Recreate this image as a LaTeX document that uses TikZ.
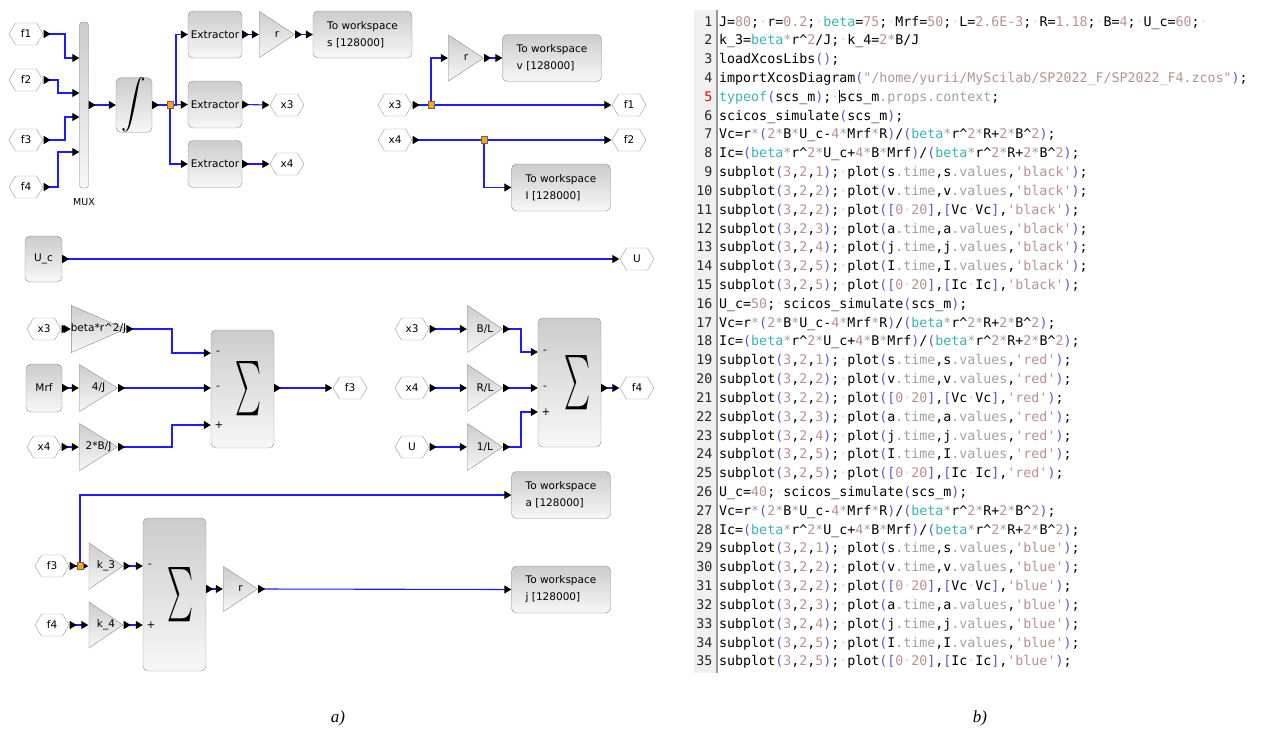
\documentclass[tikz,border=0pt]{standalone}
\usepackage{fontspec}
\setmainfont{Liberation Serif}
\setsansfont{DejaVu Sans}
\setmonofont{DejaVu Sans Mono}
\usepackage{xcolor}
\usetikzlibrary{arrows.meta,calc}
\definecolor{wireblue}{HTML}{1C1CFF}
\definecolor{splitorg}{HTML}{FFA500}
\definecolor{cpar}{HTML}{5858D8}
\definecolor{cnum}{HTML}{BC8F8F}
\definecolor{cfun}{HTML}{38B2B2}
\definecolor{cfld}{HTML}{A0A0A0}
\definecolor{cdot}{HTML}{D2D2D2}
\newcommand{\blkfont}{\sffamily\fontsize{10.5}{17}\selectfont}
\newcommand{\codefont}{\ttfamily\fontsize{13.3}{16}\selectfont}
\newcommand{\cP}[1]{\textcolor{cpar}{#1}}
\newcommand{\cN}[1]{\textcolor{cnum}{#1}}
\newcommand{\cF}[1]{\textcolor{cfun}{#1}}
\newcommand{\cG}[1]{\textcolor{cfld}{#1}}
\newcommand{\cS}{\textcolor{cfld}{*}}
\newcommand{\wsd}{\textcolor{cdot}{\char"00B7}}
\newcommand{\crsr}{\makebox[0pt]{\rule[-2pt]{0.9pt}{13pt}}}
\newcommand{\splt}[1]{subplot\cP{(}\cN{3},\cN{2},\cN{#1}\cP{)};\wsd}
\newcommand{\pltv}[2]{plot\cP{(}#1\cG{.time},#1\cG{.values},\cN{'#2'}\cP{)};}
\newcommand{\pltc}[2]{plot\cP{([}\cN{0}\wsd\cN{20}\cP{]},\cP{[}#1\wsd #1\cP{]},\cN{'#2'}\cP{)};}
\newcommand{\eqV}{Vc=r\cS\cP{(}\cN{2}\cS B\cS U\_c-\cN{4}\cS Mrf\cS R\cP{)}/\cP{(}\cF{beta}\cS r\textasciicircum\cN{2}\cS R+\cN{2}\cS B\textasciicircum\cN{2}\cP{)};}
\newcommand{\eqI}{Ic=\cP{(}\cF{beta}\cS r\textasciicircum\cN{2}\cS U\_c+\cN{4}\cS B\cS Mrf\cP{)}/\cP{(}\cF{beta}\cS r\textasciicircum\cN{2}\cS R+\cN{2}\cS B\textasciicircum\cN{2}\cP{)};}
\newcommand{\sumsym}[1]{\hspace*{#1}\resizebox{26pt}{42pt}{$\sum$}}
\tikzset{
  prt/.tip={Triangle[length=7pt,width=8pt,color=black]},
  prtout/.tip={Triangle[length=7pt,width=8pt,color=black,reversed]},
  blk/.style={draw=black!45, rounded corners=5pt, top color=black!20, bottom color=black!3, inner sep=0pt, font=\blkfont},
  extr/.style={blk, minimum width=54, minimum height=47},
  wsblk/.style={blk, minimum width=99, minimum height=47, align=left},
  sumblk/.style={blk, minimum width=63},
  tag/.style={minimum width=35, minimum height=23, inner sep=0pt, font=\blkfont,
    path picture={\draw[black!40]
      ($(path picture bounding box.west)+(0.5,0)$) -- ($(path picture bounding box.north west)+(7,0.5)$) --
      ($(path picture bounding box.north east)+(-7,0.5)$) -- ($(path picture bounding box.east)+(-0.5,0)$) --
      ($(path picture bounding box.south east)+(-7,-0.5)$) -- ($(path picture bounding box.south west)+(7,-0.5)$) -- cycle;}},
  gain/.style={minimum width=36, minimum height=47, inner sep=0pt, font=\blkfont,
    path picture={\shade[top color=black!20, bottom color=black!3, draw=black!45]
      ($(path picture bounding box.north west)+(0.5,0.5)$) -- ($(path picture bounding box.east)+(-0.5,0)$) --
      ($(path picture bounding box.south west)+(0.5,-0.5)$) -- cycle;}},
  splitpt/.style={draw=black!60, fill=splitorg, minimum width=6, minimum height=7, inner sep=0pt},
  sign/.style={font=\blkfont, inner sep=0pt},
  wire/.style={draw=wireblue, line width=1.1pt},
  io/.style={wire, {prtout}-{prt}},
  intoport/.style={wire, -{prt}},
  outof/.style={wire, {prtout}-},
  lnum/.style={anchor=base east, inner sep=0pt, font=\codefont, text=black!85},
  code/.style={anchor=base west, inner sep=0pt, font=\codefont},
  capt/.style={font=\itshape\fontsize{17}{17}\selectfont}
}
\begin{document}
\begin{tikzpicture}[x=1pt, y=-1pt]
\useasboundingbox (0,0) rectangle (1268,731);

% mux, integrator and extractors
\node[tag] (f1i) at (26,34) {f1};
\node[tag] (f2i) at (26,80) {f2};
\node[tag] (f3i) at (26,140) {f3};
\node[tag] (f4i) at (26,187) {f4};
\node[blk, rounded corners=3pt, minimum width=9, minimum height=166] (mux) at (84,105) {};
\node[font=\sffamily\fontsize{9.5}{9.5}\selectfont] (muxlab) at (84,202) {MUX};
\node[blk, minimum width=36, minimum height=47] (integ) at (134,105) {\resizebox{!}{34pt}{$\displaystyle\int$}};
\coordinate (s1) at (170,105);
\node[extr] (ext1) at (215,34.5) {Extractor};
\node[extr] (ext2) at (215,104.5) {Extractor};
\node[extr] (ext3) at (215,164) {Extractor};
\node[gain] (gr1) at (277,34.5) {r};
\node[wsblk] (wss) at (362.5,34.5) {To workspace\\s [128000]};
\node[tag] (x3o) at (287,105) {x3};
\node[tag] (x4o) at (287,164) {x4};
\draw[io] (f1i.east) -- (65,34) |- (mux.west |- 0,58);
\draw[io] (f2i.east) -- (58,80) |- (mux.west |- 0,93);
\draw[io] (f3i.east) -- (65,140) |- (mux.west |- 0,117);
\draw[io] (f4i.east) -- (58,187) |- (mux.west |- 0,152);
\draw[io] (mux.east) -- (integ.west);
\draw[outof] (integ.east) -- (s1);
\draw[intoport] (s1) -- (176,105) |- (ext1.west);
\draw[intoport] (s1) -- (ext2.west);
\draw[intoport] (s1) |- (ext3.west);
\draw[io] (ext1.east) -- (gr1.west);
\draw[io] (gr1.east) -- (wss.west);
\draw[io] (ext2.east) -- (x3o.west);
\draw[io] (ext3.east) -- (x4o.west);

% speed and current outputs
\node[tag] (x3i) at (395,105) {x3};
\node[tag] (x4i) at (395,140) {x4};
\coordinate (s2) at (431,105);
\coordinate (s3) at (484,140);
\node[gain] (gr2) at (466,58) {r};
\node[wsblk] (wsv) at (552,58) {To workspace\\v [128000]};
\node[tag] (f1o) at (629,105) {f1};
\node[tag] (f2o) at (629,140) {f2};
\node[wsblk] (wsI) at (561,187.5) {To workspace\\I [128000]};
\draw[outof] (x3i.east) -- (s2);
\draw[intoport] (s2) |- (gr2.west);
\draw[intoport] (s2) -- (f1o.west);
\draw[io] (gr2.east) -- (wsv.west);
\draw[outof] (x4i.east) -- (s3);
\draw[intoport] (s3) -- (f2o.west);
\draw[intoport] (s3) |- (wsI.west);

% voltage
\node[blk, minimum width=37, minimum height=46] (uc) at (43.5,259) {U\_c};
\node[tag] (uo) at (637,259) {U};
\draw[io] (uc.east) -- (uo.west);

% f3
\node[tag] (x3a) at (44,329) {x3};
\node[blk, minimum width=36, minimum height=48] (mrf) at (44,388) {Mrf};
\node[tag] (x4a) at (44,447) {x4};
\node[gain, minimum width=39, minimum height=48] (ga) at (98.5,329) {beta*r\textasciicircum 2/J};
\node[gain, minimum width=39, minimum height=48] (gb) at (98.5,388) {4/J};
\node[gain, minimum width=39, minimum height=48] (gc) at (98.5,447) {2*B/J};
\node[sumblk, minimum height=118] (sum1) at (242.5,389) {\sumsym{12pt}};
\node[sign] (sg1a) at (218,353) {-};
\node[sign] (sg1b) at (218,388) {-};
\node[sign] (sg1c) at (219,425) {+};
\node[tag] (f3o) at (350,388) {f3};
\draw[io] (x3a.east) -- (ga.west);
\draw[io] (mrf.east) -- (gb.west);
\draw[io] (x4a.east) -- (gc.west);
\draw[io] (ga.east) -- (172,329) |- (sum1.west |- 0,353);
\draw[io] (gb.east) -- (sum1.west |- gb.east);
\draw[io] (gc.east) -- (172,447) |- (sum1.west |- 0,425);
\draw[io] (sum1.east |- f3o.west) -- (f3o.west);

% f4
\node[tag] (x3b) at (412,329) {x3};
\node[tag] (x4b) at (412,388) {x4};
\node[tag] (ub) at (412,447) {U};
\node[gain, minimum height=48] (gd) at (485,329) {B/L};
\node[gain, minimum height=48] (ge) at (485,388) {R/L};
\node[gain, minimum height=48] (gf) at (485,447) {1/L};
\node[sumblk, minimum height=129] (sum2) at (569.5,382.5) {\sumsym{15pt}};
\node[sign] (sg2a) at (545,352) {-};
\node[sign] (sg2b) at (545,388) {-};
\node[sign] (sg2c) at (546,412) {+};
\node[tag] (f4o) at (637,388) {f4};
\draw[io] (x3b.east) -- (gd.west);
\draw[io] (x4b.east) -- (ge.west);
\draw[io] (ub.east) -- (gf.west);
\draw[io] (gd.east) -- (521,329) |- (sum2.west |- 0,352);
\draw[io] (ge.east) -- (sum2.west |- ge.east);
\draw[io] (gf.east) -- (521,447) |- (sum2.west |- 0,412);
\draw[io] (sum2.east |- f4o.west) -- (f4o.west);

% acceleration and jerk
\node[tag] (f3a) at (52,566) {f3};
\node[tag] (f4a) at (52,625) {f4};
\coordinate (s4) at (80,566);
\node[gain, minimum width=35] (gk3) at (106,566) {k\_3};
\node[gain, minimum width=35] (gk4) at (106,625) {k\_4};
\node[sumblk, minimum height=153] (sum3) at (174.5,594.5) {\sumsym{11pt}};
\node[sign] (sg3a) at (150,566) {-};
\node[sign] (sg3b) at (151,625) {+};
\node[gain, minimum width=35, minimum height=46] (gr3) at (240.5,589) {r};
\node[wsblk] (wsa) at (561,495) {To workspace\\a [128000]};
\node[wsblk] (wsj) at (561,589.5) {To workspace\\j [128000]};
\draw[outof] (f3a.east) -- (s4);
\draw[intoport] (s4) -- (gk3.west);
\draw[intoport] (s4) |- (wsa.west);
\draw[io] (f4a.east) -- (gk4.west);
\draw[io] (gk3.east) -- (sum3.west |- gk3.east);
\draw[io] (gk4.east) -- (sum3.west |- gk4.east);
\draw[io] (sum3.east |- gr3.west) -- (gr3.west);
\draw[io] (gr3.east) -- (wsj.west);

% split points
\node[splitpt] (sp1) at (s1) {};
\node[splitpt] (sp2) at (s2) {};
\node[splitpt] (sp3) at (s3) {};
\node[splitpt] (sp4) at (s4) {};

% script
\fill[black!6] (694,10) rectangle (716,673);
\draw[black!40, line width=2pt] (717,10) -- (717,673);
\foreach \ln [count=\i] in {
  {J=\cN{80};\wsd r=\cN{0.2};\wsd \cF{beta}=\cN{75};\wsd Mrf=\cN{50};\wsd L=\cN{2.6E-3};\wsd R=\cN{1.18};\wsd B=\cN{4};\wsd U\_c=\cN{60};\wsd},
  {k\_3=\cF{beta}\cS r\textasciicircum\cN{2}/J;\wsd k\_4=\cN{2}\cS B/J},
  {loadXcosLibs\cP{()};},
  {importXcosDiagram\cP{(}\cN{"/home/yurii/MyScilab/SP2022\_F/SP2022\_F4.zcos"}\cP{)};},
  {\cF{typeof}\cP{(}scs\_m\cP{)};\wsd\crsr scs\_m\cG{.props.context};},
  {scicos\_simulate\cP{(}scs\_m\cP{)};},
  {\eqV}, {\eqI},
  {\splt{1}\pltv{s}{black}}, {\splt{2}\pltv{v}{black}}, {\splt{2}\pltc{Vc}{black}},
  {\splt{3}\pltv{a}{black}}, {\splt{4}\pltv{j}{black}}, {\splt{5}\pltv{I}{black}},
  {\splt{5}\pltc{Ic}{black}},
  {U\_c=\cN{50};\wsd scicos\_simulate\cP{(}scs\_m\cP{)};},
  {\eqV}, {\eqI},
  {\splt{1}\pltv{s}{red}}, {\splt{2}\pltv{v}{red}}, {\splt{2}\pltc{Vc}{red}},
  {\splt{3}\pltv{a}{red}}, {\splt{4}\pltv{j}{red}}, {\splt{5}\pltv{I}{red}},
  {\splt{5}\pltc{Ic}{red}},
  {U\_c=\cN{40};\wsd scicos\_simulate\cP{(}scs\_m\cP{)};},
  {\eqV}, {\eqI},
  {\splt{1}\pltv{s}{blue}}, {\splt{2}\pltv{v}{blue}}, {\splt{2}\pltc{Vc}{blue}},
  {\splt{3}\pltv{a}{blue}}, {\splt{4}\pltv{j}{blue}}, {\splt{5}\pltv{I}{blue}},
  {\splt{5}\pltc{Ic}{blue}}} {
  \node[lnum] (n\i) at (712.5,{26+(\i-1)*18.82}) {\ifnum\i=5 \textcolor{red}{\i}\else\i\fi};
  \node[code] (c\i) at (719,{26+(\i-1)*18.82}) {\ln};
}

% captions
\node[capt] (capa) at (338,718) {a)};
\node[capt] (capb) at (980,718) {b)};
\end{tikzpicture}
\end{document}
